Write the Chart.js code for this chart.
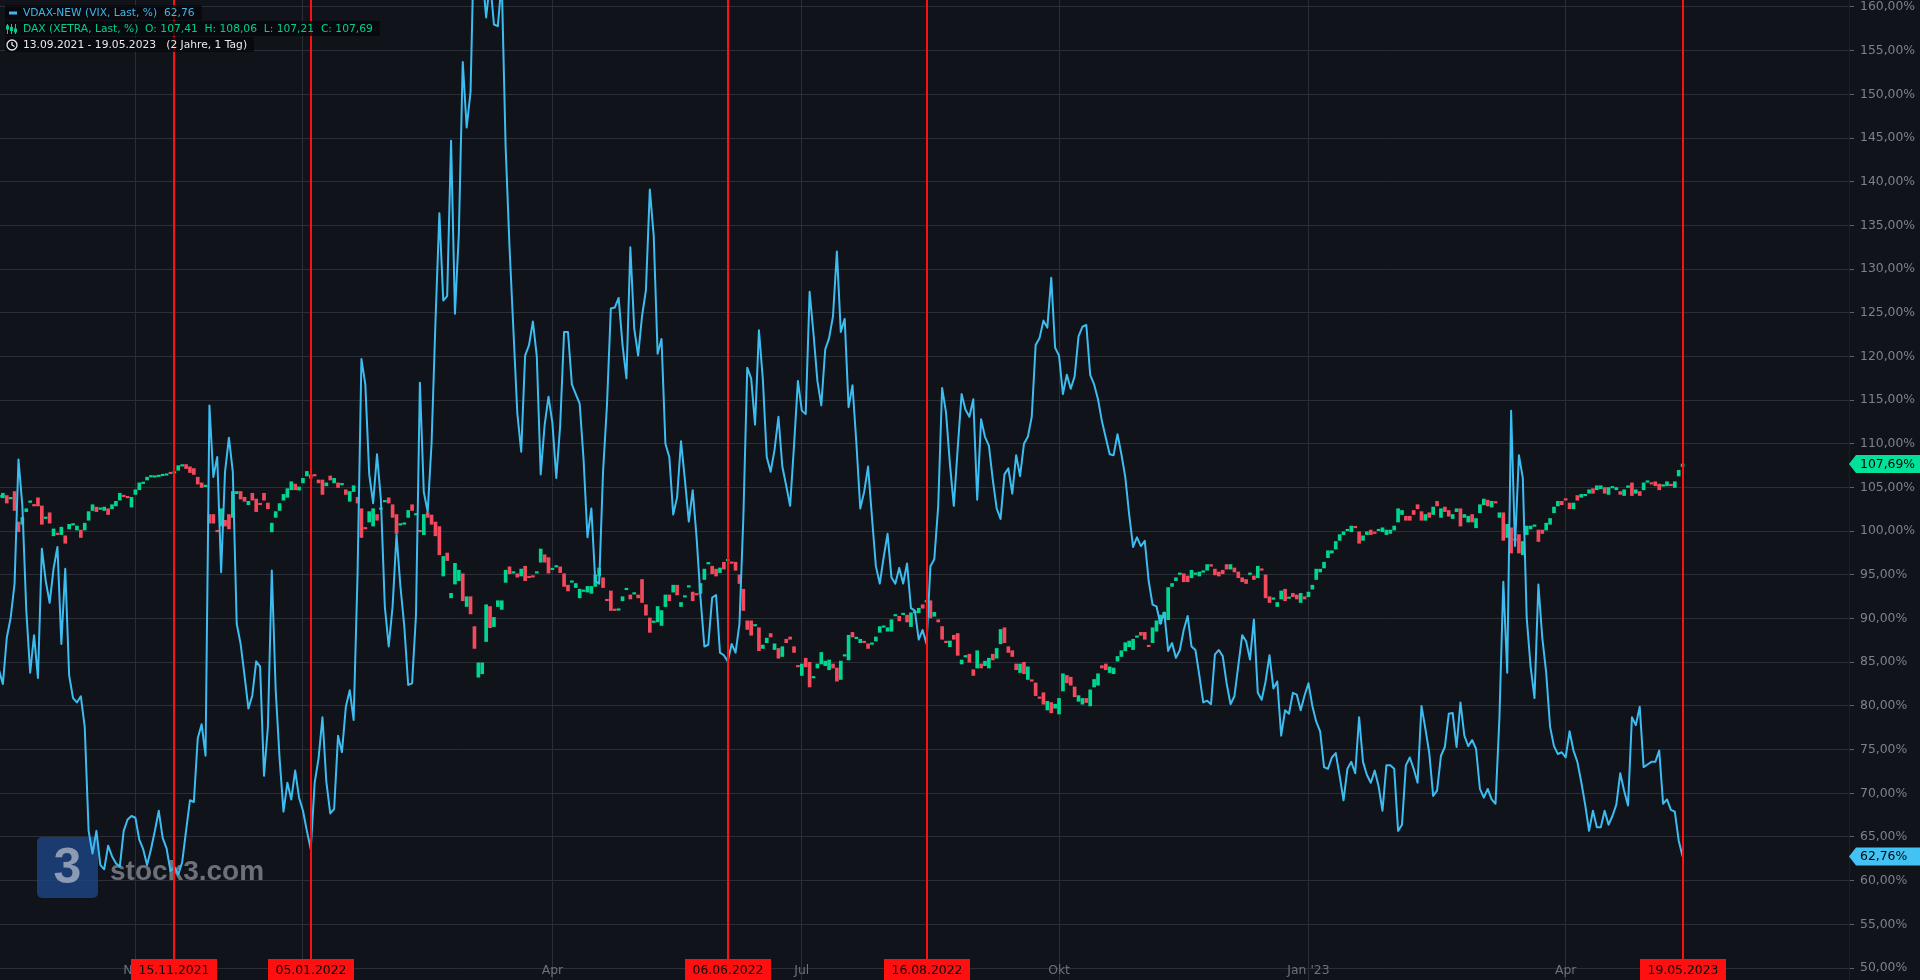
<!DOCTYPE html>
<html>
<head>
<meta charset="utf-8">
<title>VDAX-NEW / DAX</title>
<script src="https://cdn.jsdelivr.net/npm/chart.js@4.4.1/dist/chart.umd.min.js"></script>
<style>
  html, body { margin: 0; padding: 0; background: #10131a; }
  #wrap { width: 1920px; height: 980px; position: relative; }
</style>
</head>
<body>
<div id="wrap"><canvas id="chart"></canvas></div>
<script>
// one value per trading day, 13.09.2021 .. 19.05.2023, in %
const vdax = [
  84.1, 82.5, 87.8, 90.1, 94.0, 108.2, 102.9, 91.0, 83.8, 88.1,
  83.2, 98.0, 94.3, 91.8, 95.7, 98.2, 87.1, 95.7, 83.5, 80.9,
  80.4, 81.1, 77.6, 65.7, 63.1, 65.7, 61.8, 61.3, 64.0, 62.8,
  62.0, 61.6, 65.7, 67.0, 67.4, 67.2, 64.7, 63.6, 61.8, 63.6,
  65.7, 68.0, 64.9, 63.7, 61.1, 61.6, 60.7, 62.1, 65.7, 69.2,
  69.0, 76.3, 77.9, 74.3, 114.4, 106.2, 108.5, 95.3, 106.8, 110.7,
  106.8, 89.4, 87.1, 83.5, 79.7, 81.2, 85.1, 84.5, 72.0, 77.6,
  95.5, 81.8, 74.0, 67.9, 71.2, 69.3, 72.6, 69.5, 68.0, 65.7,
  63.6, 71.2, 74.0, 78.7, 71.3, 67.7, 68.2, 76.6, 74.7, 79.9,
  81.8, 78.4, 95.0, 119.7, 116.8, 106.5, 103.2, 108.8, 103.6, 91.4,
  86.8, 91.4, 99.6, 93.7, 89.1, 82.4, 82.6, 90.4, 117.0, 104.5,
  102.2, 110.1, 124.0, 136.4, 126.4, 126.9, 144.7, 124.9, 134.1, 153.7,
  146.2, 150.3, 170, 168, 164, 158.8, 163, 158.0, 157.8, 163,
  144, 132.5, 123, 113.5, 109.1, 120.1, 121.3, 124.0, 120.0, 106.5,
  112.1, 115.4, 112.4, 106.1, 112.1, 122.8, 122.8, 116.8, 115.7, 114.6,
  108.2, 99.3, 102.6, 94.3, 94.0, 106.8, 114.4, 125.5, 125.6, 126.7,
  121.3, 117.5, 132.5, 123.2, 120.1, 124.6, 127.6, 139.1, 133.8, 120.3,
  122.0, 110.0, 108.5, 101.9, 103.9, 110.3, 105.9, 101.1, 104.7, 99.3,
  92.4, 86.8, 87.0, 92.4, 92.7, 86.1, 85.8, 85.1, 87.1, 86.1,
  89.4, 101.6, 118.7, 117.5, 112.2, 123.0, 117.4, 108.5, 106.8, 109.3,
  113.1, 107.4, 105.2, 102.9, 109.8, 117.2, 113.8, 113.4, 127.4, 122.6,
  117.2, 114.4, 120.8, 122.1, 124.6, 132.0, 122.8, 124.3, 114.2, 116.7,
  110.1, 102.6, 104.5, 107.4, 101.6, 96.0, 94.0, 97.0, 99.7, 94.7,
  94.0, 95.8, 94.0, 96.3, 91.2, 90.9, 87.6, 88.7, 87.1, 96.0,
  96.8, 102.9, 116.4, 113.6, 107.7, 102.9, 109.5, 115.7, 113.9, 113.1,
  115.1, 103.6, 112.8, 110.8, 109.8, 105.9, 102.6, 101.4, 106.5, 107.2,
  104.3, 108.7, 106.3, 110.0, 110.8, 113.1, 121.3, 122.1, 124.1, 123.3,
  129.0, 121.0, 120.1, 115.7, 117.9, 116.3, 117.7, 122.3, 123.4, 123.6,
  117.9, 116.8, 115.1, 112.6, 110.7, 108.8, 108.7, 111.1, 108.8, 106.2,
  101.9, 98.2, 99.3, 98.3, 98.9, 94.3, 91.6, 91.4, 89.4, 90.7,
  86.3, 87.2, 85.5, 86.4, 88.7, 90.3, 86.8, 86.4, 83.5, 80.4,
  80.6, 80.2, 85.9, 86.4, 85.7, 82.6, 80.2, 81.1, 84.6, 88.1,
  87.4, 85.3, 89.9, 81.5, 80.7, 82.8, 85.8, 82.0, 82.8, 76.6,
  79.5, 79.1, 81.5, 81.3, 79.5, 81.2, 82.6, 80.0, 78.2, 77.1,
  73.0, 72.8, 74.1, 74.6, 72.0, 69.2, 72.8, 73.6, 72.3, 78.7,
  73.6, 72.1, 71.2, 72.6, 70.8, 68.0, 73.2, 73.2, 72.8, 65.7,
  66.4, 73.2, 74.1, 72.8, 71.2, 80.0, 77.4, 74.6, 69.7, 70.3,
  74.3, 75.3, 79.1, 79.2, 75.3, 80.4, 76.6, 75.4, 76.1, 75.1,
  70.5, 69.5, 70.5, 69.3, 68.8, 78.6, 94.2, 83.8, 113.8, 98.3,
  108.7, 106.1, 90.1, 84.5, 80.9, 93.9, 87.8, 83.8, 77.6, 75.4,
  74.5, 74.7, 74.1, 77.1, 74.9, 73.6, 71.3, 68.7, 65.7, 68.0,
  66.1, 66.1, 68.0, 66.4, 67.4, 68.7, 72.3, 70.3, 68.6, 78.7,
  77.8, 79.9, 73.0, 73.3, 73.6, 73.6, 74.9, 68.8, 69.3, 68.1,
  67.9, 64.6, 62.76
];

const daxOpen = [
  103.9, 103.82, 104.08, 103.7, 104.54, 101.05, 100.79, 102.24, 103.3, 103.0,
  103.82, 102.89, 101.45, 102.11, 99.47, 99.7, 99.61, 99.47, 100.26, 100.7,
  100.13, 100.13, 100.13, 101.25, 102.37, 102.76, 102.5, 102.37, 102.57, 102.57,
  102.89, 103.55, 104.1, 103.9, 102.76, 104.21, 104.74, 105.45, 105.86, 106.2,
  106.18, 106.25, 106.35, 106.4, 106.65, 106.65, 106.97, 107.45, 107.63, 107.37,
  107.17, 106.18, 105.53, 105.1, 101.91, 101.91, 100.1, 100.59, 101.25, 101.91,
  101.58, 104.3, 104.54, 103.88, 103.03, 104.34, 103.68, 103.1, 104.34, 103.22,
  99.93, 101.58, 102.37, 103.55, 103.88, 104.74, 105.39, 104.7, 105.53, 106.32,
  106.45, 106.4, 105.86, 105.86, 105.2, 106.32, 105.53, 105.53, 105.3, 104.74,
  103.42, 104.54, 103.88, 102.57, 100.39, 101.05, 100.59, 101.91, 102.5, 103.35,
  103.82, 103.03, 101.91, 100.7, 100.79, 101.58, 103.03, 101.85, 100.0, 99.61,
  102.11, 101.85, 101.05, 100.53, 94.87, 97.5, 92.37, 93.95, 94.34, 95.13,
  91.38, 92.5, 89.08, 83.29, 83.68, 87.37, 91.38, 89.08, 91.38, 91.05,
  94.14, 95.92, 95.2, 95.13, 94.87, 95.99, 94.75, 94.8, 95.2, 96.45,
  97.3, 96.97, 95.6, 95.9, 95.92, 95.13, 93.82, 94.15, 93.55, 92.37,
  93.1, 93.03, 92.89, 93.68, 94.87, 94.67, 92.1, 93.16, 91.0, 90.95,
  92.04, 93.3, 92.7, 92.8, 92.7, 94.47, 91.58, 90.07, 89.55, 89.61,
  89.21, 91.38, 92.7, 93.03, 93.82, 91.38, 92.45, 93.6, 93.03, 92.75,
  92.89, 94.47, 96.25, 95.99, 95.66, 95.26, 96.45, 96.6, 96.4, 96.45,
  95.0, 93.36, 89.74, 89.74, 89.15, 88.95, 86.58, 87.24, 88.29, 86.45,
  86.58, 85.66, 87.63, 87.89, 86.78, 84.55, 83.49, 85.46, 85.0, 83.2,
  84.34, 84.8, 84.61, 84.14, 84.8, 84.34, 83.03, 85.7, 85.26, 88.42,
  87.7, 87.24, 87.3, 87.11, 87.05, 87.43, 88.42, 89.0, 88.55, 88.55,
  90.3, 90.26, 90.45, 90.39, 89.08, 90.65, 90.66, 91.58, 91.9, 92.04,
  90.26, 89.87, 89.08, 87.3, 86.78, 88.09, 88.29, 84.8, 85.6, 85.92,
  84.14, 84.34, 84.8, 84.61, 84.34, 85.92, 85.46, 87.11, 88.95, 86.78,
  86.32, 84.8, 83.82, 85.0, 83.03, 82.9, 82.63, 80.9, 81.51, 79.54,
  80.39, 79.74, 79.08, 81.71, 83.49, 83.29, 82.17, 80.53, 80.2, 80.86,
  80.0, 82.17, 82.37, 84.61, 84.8, 83.82, 83.68, 85.13, 85.66, 86.32,
  86.78, 86.45, 87.85, 88.42, 88.42, 86.85, 87.24, 88.55, 89.41, 90.07,
  89.87, 93.68, 94.34, 95.05, 95.13, 94.87, 94.67, 95.05, 94.87, 95.3,
  95.53, 96.18, 95.66, 95.33, 95.53, 96.18, 95.66, 95.79, 95.33, 94.67,
  94.47, 95.05, 94.87, 94.67, 95.6, 95.0, 92.5, 92.2, 91.38, 92.24,
  93.36, 92.3, 92.89, 92.7, 91.84, 92.5, 92.5, 93.36, 94.47, 95.33,
  95.79, 96.97, 97.5, 97.96, 98.95, 99.61, 100.05, 99.93, 100.45, 99.93,
  98.95, 99.61, 100.13, 99.8, 100.05, 99.93, 99.61, 99.74, 100.13, 101.05,
  101.91, 101.71, 101.71, 102.37, 103.03, 102.24, 101.25, 102.11, 101.91, 103.42,
  101.58, 102.76, 102.37, 101.45, 102.24, 102.57, 101.58, 101.05, 101.91, 100.39,
  102.11, 103.03, 103.55, 102.76, 103.25, 101.58, 102.11, 99.28, 100.39, 99.0,
  99.61, 97.3, 99.61, 100.26, 100.55, 100.13, 100.13, 100.13, 100.79, 102.11,
  102.89, 103.42, 103.6, 103.22, 102.57, 104.08, 103.88, 104.05, 104.34, 104.87,
  104.74, 104.87, 105.0, 104.21, 104.95, 104.74, 104.54, 104.08, 105.0, 105.53,
  104.34, 104.54, 104.74, 105.6, 105.45, 105.66, 105.39, 105.15, 105.2, 105.25,
  105.0, 106.32, 107.41
];

const daxClose = [
  104.1, 104.34, 103.22, 103.85, 102.37, 99.93, 101.58, 102.57, 103.42, 102.89,
  102.89, 100.79, 101.58, 100.92, 100.26, 99.61, 100.46, 98.62, 100.79, 100.79,
  100.59, 99.28, 100.92, 102.24, 103.03, 102.24, 102.57, 102.76, 101.91, 103.03,
  103.42, 104.34, 103.95, 103.82, 103.88, 104.74, 105.53, 105.53, 106.18, 106.32,
  106.25, 106.32, 106.45, 106.45, 106.58, 106.71, 107.5, 107.5, 107.17, 106.71,
  106.5, 105.39, 105.0, 105.2, 100.92, 100.92, 99.93, 102.57, 100.59, 100.26,
  104.54, 104.54, 103.68, 103.42, 103.42, 103.55, 102.24, 103.03, 103.55, 102.57,
  100.92, 102.24, 103.16, 104.21, 104.87, 105.66, 104.74, 105.07, 106.05, 106.84,
  106.05, 106.32, 105.53, 104.21, 105.53, 105.86, 106.05, 105.0, 105.39, 104.21,
  104.54, 105.2, 103.22, 99.28, 100.26, 102.24, 102.57, 101.25, 102.57, 103.42,
  103.22, 101.58, 99.74, 100.79, 100.85, 102.37, 102.37, 101.91, 99.93, 101.91,
  101.58, 100.79, 99.47, 97.3, 97.11, 96.64, 92.89, 96.32, 95.53, 92.04,
  92.5, 90.53, 86.58, 84.93, 84.93, 91.58, 88.95, 90.13, 92.04, 92.04,
  95.53, 95.13, 95.26, 94.74, 95.66, 94.34, 94.67, 94.74, 95.26, 97.96,
  96.45, 95.2, 95.66, 95.99, 95.26, 93.68, 93.16, 94.21, 94.01, 93.36,
  93.16, 93.68, 93.68, 95.0, 95.79, 93.55, 92.04, 90.92, 90.92, 91.05,
  92.5, 93.36, 92.24, 92.89, 92.37, 91.84, 90.39, 88.42, 89.61, 91.38,
  90.92, 92.7, 92.04, 93.82, 92.7, 91.84, 92.5, 93.68, 92.04, 92.7,
  94.01, 95.66, 96.32, 95.13, 94.87, 95.79, 95.66, 96.64, 96.32, 95.53,
  94.01, 90.92, 88.75, 88.09, 89.21, 86.32, 86.97, 87.76, 87.89, 87.11,
  85.46, 86.78, 87.24, 87.63, 86.12, 84.47, 84.8, 84.47, 82.17, 83.29,
  84.8, 86.12, 85.13, 85.26, 84.34, 82.83, 85.13, 85.79, 88.09, 87.89,
  87.76, 87.63, 87.24, 86.58, 87.11, 87.89, 89.08, 89.08, 88.95, 89.87,
  90.39, 89.74, 90.53, 89.61, 90.66, 90.72, 91.18, 91.18, 92.04, 90.07,
  90.72, 89.61, 87.63, 87.24, 87.43, 87.63, 85.79, 85.26, 85.66, 85.0,
  83.49, 86.32, 84.34, 85.13, 85.46, 85.26, 86.58, 88.75, 87.24, 86.12,
  85.66, 84.14, 84.8, 83.68, 84.47, 82.83, 81.18, 80.86, 80.2, 80.53,
  79.21, 80.2, 80.86, 83.68, 82.63, 82.37, 81.05, 81.18, 80.86, 80.39,
  81.84, 83.03, 83.68, 84.34, 84.14, 84.47, 84.34, 85.66, 86.32, 87.24,
  87.43, 87.63, 87.89, 88.09, 87.63, 86.78, 88.95, 89.74, 90.39, 90.72,
  93.55, 94.01, 94.67, 95.13, 94.21, 94.21, 95.53, 95.13, 95.33, 95.33,
  96.18, 95.99, 95.0, 94.87, 95.13, 95.66, 96.18, 95.33, 94.67, 94.21,
  94.01, 95.13, 94.47, 95.99, 95.53, 92.37, 91.84, 92.24, 91.84, 93.16,
  92.04, 92.37, 92.5, 92.24, 92.89, 92.24, 93.03, 93.82, 95.66, 95.66,
  96.45, 97.76, 97.76, 98.82, 99.61, 99.93, 100.13, 100.59, 100.39, 98.62,
  99.47, 99.93, 99.61, 99.74, 100.13, 100.39, 100.13, 100.13, 100.59, 102.57,
  102.37, 101.25, 101.25, 101.91, 102.57, 101.25, 101.91, 101.58, 102.76, 102.89,
  102.57, 102.24, 101.71, 101.91, 102.57, 100.59, 101.91, 101.71, 101.05, 101.45,
  103.03, 103.68, 102.89, 103.42, 103.22, 102.11, 98.95, 100.79, 97.5, 98.95,
  97.5, 98.82, 100.59, 100.59, 100.59, 98.82, 99.74, 100.92, 101.45, 102.76,
  103.42, 103.03, 103.55, 102.57, 103.22, 103.55, 104.21, 104.08, 104.74, 104.34,
  105.2, 105.2, 104.34, 105.0, 105.0, 105.0, 104.21, 104.74, 105.2, 104.08,
  104.74, 104.08, 105.53, 105.66, 105.39, 105.2, 104.74, 105.2, 105.66, 105.2,
  105.66, 106.97, 107.69
];

// time axis: trading-day index of each month start shown, and its label
const monthTicks = [35, 78, 142, 206, 272, 336, 402];
const monthLabels = ['Nov', "Jan '22", 'Apr', 'Jul', 'Okt', "Jan '23", 'Apr'];

// red date markers
const markerDays = [45, 80, 187, 238, 432];
const markerLabels = ['15.11.2021', '05.01.2022', '06.06.2022', '16.08.2022', '19.05.2023'];

const yTicks = [50, 55, 60, 65, 70, 75, 80, 85, 90, 95, 100, 105, 110,
  115, 120, 125, 130, 135, 140, 145, 150, 155, 160];

const GREEN = '#00d68f';
const RED = '#f2495c';
const BLUE = '#3dbcf0';
const GRID = '#2a2e36';

const fmt = v => v.toFixed(2).replace('.', ',');

const candles = daxClose.map((c, i) => ({x: i, y: [daxOpen[i], c]}));
const vdaxPoints = vdax.map((v, i) => ({x: i, y: v}));

// everything the library has no element for: watermark, markers, labels, legend, price tags
const overlay = {
  id: 'overlay',

  beforeDatasetsDraw(chart) {
    const ctx = chart.ctx;
    ctx.save();
    ctx.globalAlpha = 0.8;
    ctx.fillStyle = '#1c4684';
    ctx.beginPath();
    ctx.roundRect(37, 837, 61, 61, 5);
    ctx.fill();
    ctx.fillStyle = '#aab3c4';
    ctx.font = 'bold 50px "Liberation Sans"';
    ctx.textAlign = 'center';
    ctx.textBaseline = 'middle';
    ctx.fillText('3', 67.5, 869);
    ctx.fillStyle = 'rgba(150,155,165,0.85)';
    ctx.font = 'bold 28px "Liberation Sans"';
    ctx.textAlign = 'left';
    ctx.textBaseline = 'alphabetic';
    ctx.fillText('stock3.com', 110, 880);
    ctx.restore();
  },

  afterDatasetsDraw(chart) {
    const {ctx, chartArea, scales: {x}} = chart;
    ctx.save();

    // month labels along the bottom
    ctx.font = '12.4px "DejaVu Sans"';
    ctx.textAlign = 'center';
    ctx.textBaseline = 'middle';
    ctx.fillStyle = '#6c717a';
    monthTicks.forEach((d, i) => {
      ctx.fillText(monthLabels[i], x.getPixelForValue(d), 971);
    });

    // red vertical markers with date boxes
    markerDays.forEach((d, i) => {
      const px = Math.round(x.getPixelForValue(d));
      ctx.fillStyle = '#ff1010';
      ctx.fillRect(px - 1, chartArea.top, 2, chartArea.bottom - chartArea.top);
      ctx.fillRect(px - 43, 959, 86, 22);
      ctx.fillStyle = '#0b0b0b';
      ctx.fillText(markerLabels[i], px, 970.5);
    });

    // legend block top left
    const rows = [
      {text: 'VDAX-NEW (VIX, Last, %)  ' + fmt(vdax[vdax.length - 1]), color: '#3fb8ea', icon: 'dash'},
      {text: 'DAX (XETRA, Last, %)  O: 107,41  H: 108,06  L: 107,21  C: ' + fmt(daxClose[daxClose.length - 1]), color: '#00d08c', icon: 'candle'},
      {text: '13.09.2021 - 19.05.2023   (2 Jahre, 1 Tag)', color: '#e8eaee', icon: 'clock'}
    ];
    ctx.font = '10.7px "DejaVu Sans"';
    ctx.textAlign = 'left';
    rows.forEach((r, i) => {
      const top = 5 + i * 16;
      const cy = top + 8;
      const w = ctx.measureText(r.text).width;
      ctx.fillStyle = 'rgba(6,8,11,0.8)';
      ctx.fillRect(5, top, 23 + w + 7 - 5, 15);
      ctx.fillStyle = r.color;
      ctx.strokeStyle = r.color;
      if (r.icon === 'dash') {
        ctx.fillRect(9, cy - 1.5, 8, 3);
      } else if (r.icon === 'candle') {
        ctx.lineWidth = 1;
        [7.5, 11.5, 15.5].forEach((cx, j) => {
          ctx.beginPath();
          ctx.moveTo(cx, cy - 5);
          ctx.lineTo(cx, cy + 5);
          ctx.stroke();
          ctx.fillRect(cx - 1.5, cy - 2 + (j - 1) * 1.5, 3, 4);
        });
      } else {
        ctx.lineWidth = 1.3;
        ctx.beginPath();
        ctx.arc(12, cy, 5, 0, Math.PI * 2);
        ctx.stroke();
        ctx.beginPath();
        ctx.moveTo(12, cy - 3);
        ctx.lineTo(12, cy);
        ctx.lineTo(14.5, cy + 1.5);
        ctx.stroke();
      }
      ctx.fillStyle = r.color;
      ctx.fillText(r.text, 23, cy + 0.5);
    });
    ctx.restore();
  },

  afterDraw(chart) {
    const {ctx, chartArea, scales: {y}} = chart;
    const tag = (val, bg) => {
      const py = y.getPixelForValue(val);
      const left = chartArea.right;
      ctx.fillStyle = bg;
      ctx.beginPath();
      ctx.moveTo(left, py);
      ctx.lineTo(left + 7, py - 9);
      ctx.lineTo(1920, py - 9);
      ctx.lineTo(1920, py + 9);
      ctx.lineTo(left + 7, py + 9);
      ctx.closePath();
      ctx.fill();
      ctx.fillStyle = '#05070a';
      ctx.font = '12.4px "DejaVu Sans"';
      ctx.textAlign = 'left';
      ctx.textBaseline = 'middle';
      ctx.fillText(fmt(val) + '%', left + 11, py + 0.5);
    };
    ctx.save();
    tag(daxClose[daxClose.length - 1], '#00e29a');
    tag(vdax[vdax.length - 1], '#42c3f3');
    ctx.restore();
  }
};

Chart.defaults.font.family = '"DejaVu Sans", sans-serif';

new Chart(document.getElementById('chart'), {
  type: 'bar',
  data: {
    datasets: [
      {
        type: 'bar',
        label: 'DAX',
        data: candles,
        backgroundColor: c => (c.raw && c.raw.y[1] >= c.raw.y[0]) ? GREEN : RED,
        borderWidth: 0,
        barThickness: 3,
        minBarLength: 1.5,
        order: 2
      },
      {
        type: 'line',
        label: 'VDAX-NEW',
        data: vdaxPoints,
        borderColor: BLUE,
        borderWidth: 2,
        borderJoinStyle: 'round',
        pointRadius: 0,
        tension: 0,
        order: 1
      }
    ]
  },
  options: {
    responsive: true,
    maintainAspectRatio: false,
    animation: false,
    events: [],
    layout: {padding: 0},
    plugins: {legend: {display: false}, tooltip: {enabled: false}},
    scales: {
      x: {
        type: 'linear',
        min: 0.26,
        max: 474.7,
        offset: false,
        afterBuildTicks: s => { s.ticks = monthTicks.map(v => ({value: v})); },
        afterFit: s => { s.height = 0; s.paddingLeft = 0; s.paddingRight = 0; },
        grid: {color: GRID, drawTicks: false, offset: false},
        border: {display: false},
        ticks: {display: false}
      },
      y: {
        position: 'right',
        min: 48.63,
        max: 160.8,
        afterBuildTicks: s => { s.ticks = yTicks.map(v => ({value: v})); },
        afterFit: s => { s.width = 71; s.paddingTop = 0; s.paddingBottom = 0; },
        grid: {color: GRID, tickColor: '#5d616a', tickLength: 5},
        border: {color: '#1b1e25'},
        ticks: {color: '#7d818a', font: {size: 12.4}, padding: 6, callback: v => fmt(v) + '%'}
      }
    }
  },
  plugins: [overlay]
});
</script>
</body>
</html>
